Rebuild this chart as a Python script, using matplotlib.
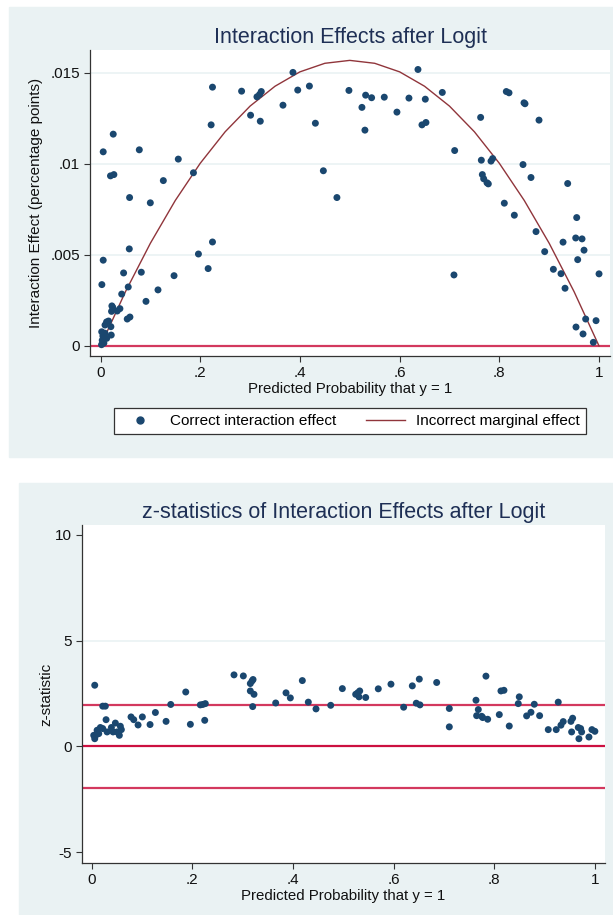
import matplotlib.pyplot as plt
from matplotlib.patches import Rectangle
from matplotlib.lines import Line2D

plt.rcParams['font.family'] = ['Liberation Sans', 'DejaVu Sans']

# --- data: interaction effect (top panel) ---
ie_x = [0.0054, 0.0255, 0.0200, 0.0268, 0.0778, 0.0583, 0.0999, 0.156, 0.126, 0.1864,
        0.2246, 0.2219, 0.283, 0.301, 0.3138, 0.3191, 0.3225, 0.3205, 0.366, 0.386,
        0.3956, 0.419, 0.431, 0.447,
        0.0577, 0.0054, 0.0027, 0.0463, 0.0818, 0.0556, 0.0425, 0.0228, 0.0221, 0.0335,
        0.0389, 0.0121, 0.0161, 0.0208, 0.0536, 0.059, 0.0912, 0.1153, 0.1475, 0.1964,
        0.2159, 0.2246, 0.0024, 0.0047, 0.0215, 0.0034, 0.0067, 0.002, 0.009, 0.0124,
        0.009, 0.0245,
        0.4742, 0.4983, 0.5318, 0.5438, 0.5244, 0.5304, 0.5692, 0.5946, 0.6187, 0.6368,
        0.6515, 0.6448, 0.6528, 0.6856, 0.7104, 0.709, 0.7625, 0.7639, 0.7659, 0.7686,
        0.7753, 0.7779, 0.7833, 0.7866, 0.814, 0.8194, 0.8495, 0.8515, 0.8796, 0.8475,
        0.8635, 0.81, 0.8301, 0.8736, 0.891, 0.9084, 0.9237, 0.9318, 0.9278, 0.9371,
        0.9552, 0.9532, 0.9659, 0.9699, 0.9572, 1.0, 0.9732, 0.994, 0.9538, 0.9679,
        0.9886]
ie_y = [0.01066, 0.01163, 0.00934, 0.00941, 0.01077, 0.00815, 0.00786, 0.01026, 0.00908, 0.00951,
        0.01421, 0.01214, 0.01399, 0.01267, 0.01368, 0.01381, 0.01397, 0.01234, 0.01322, 0.01502,
        0.01405, 0.01427, 0.01223, 0.00962,
        0.00533, 0.00471, 0.00337, 0.00401, 0.00405, 0.00324, 0.00285, 0.0022, 0.0019, 0.00192,
        0.00205, 0.00132, 0.00137, 0.00106, 0.00148, 0.00159, 0.00245, 0.00308, 0.00386, 0.00505,
        0.00425, 0.00571, 0.00078, 0.00055, 0.0006, 0.00031, 0.00016, 0.00007, 0.0007, 0.00042,
        0.00115, 0.00212,
        0.00815, 0.01403, 0.01377, 0.01363, 0.0131, 0.01185, 0.01366, 0.01284, 0.01361, 0.01518,
        0.01355, 0.01214, 0.01227, 0.01392, 0.01073, 0.0039, 0.01255, 0.0102, 0.00941, 0.00918,
        0.00896, 0.0089, 0.01015, 0.01029, 0.01397, 0.0139, 0.01335, 0.0133, 0.0124, 0.00996,
        0.00925, 0.00784, 0.00718, 0.00628, 0.00518, 0.00421, 0.00397, 0.00317, 0.0057, 0.00892,
        0.00705, 0.00593, 0.00588, 0.00526, 0.00474, 0.00396, 0.00148, 0.00139, 0.00104, 0.00066,
        0.0002]

# incorrect marginal effect curve
me_x = [0.0, 0.05, 0.1, 0.15, 0.2, 0.25, 0.3, 0.35, 0.4, 0.45, 0.5,
        0.55, 0.6, 0.65, 0.7, 0.75, 0.8, 0.85, 0.9, 0.95, 1.0]
me_y = [0.0, 0.00298, 0.00564, 0.00799, 0.01003, 0.01176, 0.01317, 0.01426, 0.01505, 0.01552, 0.01568,
        0.01552, 0.01505, 0.01426, 0.01317, 0.01176, 0.01003, 0.00799, 0.00564, 0.00298, 0.0]

# --- data: z-statistics (bottom panel) ---
z_x = [0.0063, 0.0222, 0.0274, 0.0288, 0.0043, 0.0063, 0.011, 0.0175, 0.0222, 0.0143,
       0.0083, 0.0308, 0.0394, 0.0473, 0.0427, 0.0506, 0.0572, 0.0592, 0.0552, 0.0784,
       0.0838, 0.0924, 0.1009, 0.1162, 0.1268, 0.148, 0.1573, 0.1871, 0.1963, 0.2161,
       0.2209, 0.226, 0.2248, 0.283, 0.3015, 0.3154, 0.3188, 0.3208, 0.3154, 0.3227,
       0.3201,
       0.3658, 0.3863, 0.3949, 0.4187, 0.4306, 0.4459, 0.4751, 0.4982, 0.5247, 0.5287,
       0.5327, 0.5313, 0.5446, 0.5696, 0.5948, 0.62, 0.6372, 0.6511, 0.6451, 0.6524,
       0.6856, 0.7107, 0.7107, 0.7835, 0.7637, 0.7683, 0.765, 0.775, 0.777, 0.7869,
       0.81, 0.8133, 0.8193, 0.8298, 0.8497, 0.8477, 0.8643, 0.8729, 0.8795, 0.8901,
       0.9073, 0.9271, 0.9231, 0.9325, 0.937, 0.9523, 0.9557, 0.9537, 0.9669, 0.9716,
       0.9736, 0.9682, 0.9881, 0.994, 0.9999]
z_y = [2.89, 1.9, 1.9, 1.26, 0.52, 0.36, 0.76, 0.89, 0.84, 0.6,
       0.52, 0.68, 0.89, 1.1, 0.68, 0.68, 0.95, 0.79, 0.52, 1.39,
       1.26, 1.01, 1.39, 1.03, 1.6, 1.18, 1.98, 2.57, 1.04, 1.96,
       1.98, 2.02, 1.23, 3.38, 3.33, 2.97, 3.09, 3.16, 2.62, 2.46,
       1.88,
       2.05, 2.53, 2.29, 3.11, 2.09, 1.77, 1.94, 2.73, 2.46, 2.53,
       2.62, 2.34, 2.31, 2.72, 2.94, 1.85, 2.86, 3.18, 2.04, 1.96,
       3.02, 1.79, 0.92, 3.32, 2.18, 1.74, 1.45, 1.42, 1.36, 1.28,
       1.5, 2.62, 2.65, 0.96, 2.34, 2.02, 1.44, 1.61, 1.99, 1.45,
       0.79, 2.09, 0.79, 1.0, 1.17, 1.18, 1.33, 0.68, 0.89, 0.84,
       0.68, 0.36, 0.44, 0.79, 0.71]
crit = [1.96, 0.0, -1.96]

navy = '#1A476F'
cranberry = '#90353B'
redline = '#D3385E'
panel = '#EAF2F3'
txt = '#1E2F55'

fig = plt.figure(figsize=(6.13, 9.15), dpi=100)
fig.patches.append(Rectangle((9 / 613, 1 - 457 / 915), 604 / 613, 450 / 915,
                             transform=fig.transFigure, color=panel, zorder=-5))
fig.patches.append(Rectangle((19 / 613, 0), 594 / 613, 432 / 915,
                             transform=fig.transFigure, color=panel, zorder=-5))


def style(ax):
    for s in ['top', 'right']:
        ax.spines[s].set_visible(False)
    for s in ['left', 'bottom']:
        ax.spines[s].set_color('#333333')
        ax.spines[s].set_linewidth(0.9)
    ax.tick_params(direction='out', length=4, width=0.8, color='#333333',
                   labelsize=11, labelcolor='#111111')
    ax.set_facecolor('white')


# top panel
ax1 = fig.add_axes([90.3 / 613, 1 - 356 / 915, 519.7 / 613, 306 / 915])
style(ax1)
for g in [0.005, 0.01, 0.015]:
    ax1.axhline(g, color=panel, lw=1.2, zorder=0)
ax1.axhline(0, color=redline, lw=1.6, zorder=1)
ax1.plot(me_x, me_y, color=cranberry, lw=1.0, zorder=2)
ax1.scatter(ie_x, ie_y, s=25, color=navy, edgecolors='none', zorder=3)
ax1.set_xlim(-0.0205, 1.022)
ax1.set_ylim(-0.00055, 0.01625)
ax1.set_xticks([0, 0.2, 0.4, 0.6, 0.8, 1])
ax1.set_xticklabels(['0', '.2', '.4', '.6', '.8', '1'])
ax1.set_yticks([0, 0.005, 0.01, 0.015])
ax1.set_yticklabels(['0', '.005', '.01', '.015'])
ax1.set_xlabel('Predicted Probability that y = 1', fontsize=10.8, color='#111111', labelpad=1)
ax1.set_ylabel('Interaction Effect (percentage points)', fontsize=11, color='#111111', labelpad=5)
ax1.set_title('Interaction Effects after Logit', fontsize=15.5, color=txt, pad=5)

handles = [Line2D([], [], marker='o', ls='none', color=navy, markersize=5),
           Line2D([], [], color=cranberry, lw=1.0)]
leg = fig.legend(handles, ['Correct interaction effect', 'Incorrect marginal effect'],
                 loc='center', bbox_to_anchor=(350 / 613, 1 - 421 / 915), ncol=2,
                 fontsize=11, frameon=True, fancybox=False, edgecolor='#333333',
                 framealpha=1, facecolor='white',
                 columnspacing=1.9, handlelength=2.6, handletextpad=0.7,
                 borderpad=0.4)
leg.get_frame().set_linewidth(0.9)

# bottom panel
ax2 = fig.add_axes([82 / 613, 1 - 863 / 915, 523 / 613, 338 / 915])
style(ax2)
ax2.axhline(5, color=panel, lw=1.2, zorder=0)
for c in crit:
    ax2.axhline(c, color=redline if c != 0 else '#CC1040', lw=1.6, zorder=1)
ax2.scatter(z_x, z_y, s=25, color=navy, edgecolors='none', zorder=3)
ax2.set_xlim(-0.019, 1.02)
ax2.set_ylim(-5.52, 10.47)
ax2.set_xticks([0, 0.2, 0.4, 0.6, 0.8, 1])
ax2.set_xticklabels(['0', '.2', '.4', '.6', '.8', '1'])
ax2.set_yticks([-5, 0, 5, 10])
ax2.set_yticklabels(['-5', '0', '5', '10'])
ax2.set_xlabel('Predicted Probability that y = 1', fontsize=10.8, color='#111111', labelpad=1)
ax2.set_ylabel('z-statistic', fontsize=11, color='#111111', labelpad=1)
ax2.set_title('z-statistics of Interaction Effects after Logit', fontsize=15.5, color=txt, pad=5)

fig.savefig('out.png', dpi=100)
